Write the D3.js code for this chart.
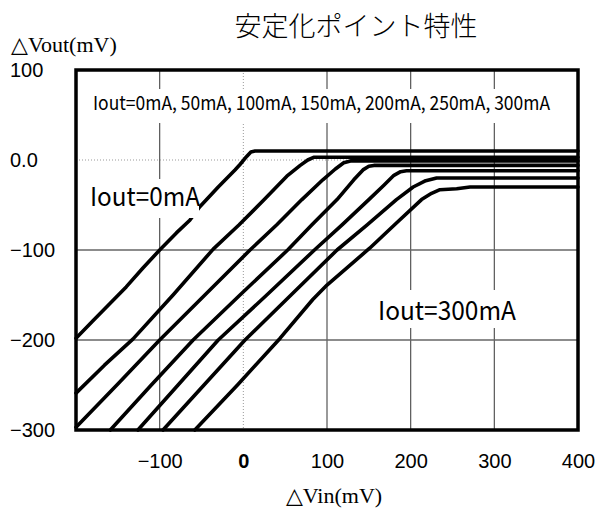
<!DOCTYPE html>
<html><head><meta charset="utf-8">
<script src="https://cdn.jsdelivr.net/npm/d3@7"></script>
<style>html,body{margin:0;padding:0;background:#fff;}svg{display:block;}</style>
</head><body>
<svg id="c" width="608" height="508"></svg>
<script>
// ---- data ----
const title = "安定化ポイント特性";
const yTitle = "△Vout(mV)";
const xTitle = "△Vin(mV)";
const legendText = "Iout=0mA, 50mA, 100mA, 150mA, 200mA, 250mA, 300mA";
const labelFirst = "Iout=0mA";
const labelLast = "Iout=300mA";
const xTicks = [-100, 0, 100, 200, 300, 400];
const yTicks = [100, 0, -100, -200, -300];
const xGridSolid = [-100, 100, 200, 300];
const yGridSolid = [-100, -200];
const ioutSeries = ["0mA", "50mA", "100mA", "150mA", "200mA", "250mA", "300mA"];
const curve0mA = [[-200,-198],[-180,-179],[-160,-160],[-140,-141],[-120,-120],[-100,-100],[-80,-81],[-64,-67],[-52,-52],[-30,-30],[-10,-11],[-4,-5],[4,4],[9,9],[14,10],[40,10],[400,10]];
const curve50mA = [[-200,-259],[-166,-228],[-132,-199],[-84,-150],[-36,-99],[-5,-72],[25,-44],[52,-18],[68,-6],[77,0],[84,3],[400,3]];
const curve100mA = [[-200,-297],[-150,-249],[-100,-200],[-46,-150],[8,-100],[40,-72],[70,-44],[95,-22],[110,-10],[120,-3],[128,-1],[400,-1]];
const curve150mA = [[-159,-300],[-110,-250],[-60,-200],[-4,-150],[53,-100],[82,-72],[112,-44],[132,-22],[143,-11],[150,-7],[156,-6],[400,-6]];
const curve200mA = [[-126,-300],[-78,-250],[-30,-200],[28,-150],[85,-100],[118,-72],[150,-44],[168,-28],[180,-17],[188,-13],[195,-12],[400,-12]];
const curve250mA = [[-96,-300],[-47,-250],[2,-200],[57,-150],[112,-100],[148,-72],[183,-44],[203,-30],[218,-23],[231,-20],[400,-20]];
const curve300mA = [[-58,-300],[-7,-250],[44,-198],[83,-155],[100,-139],[151,-98],[183,-70],[213,-44],[225,-37],[235,-33],[255,-32],[271,-30],[400,-30]];
const curves = [curve0mA, curve50mA, curve100mA, curve150mA, curve200mA, curve250mA, curve300mA];

// ---- drawing ----
const svg = d3.select("#c");
const x = d3.scaleLinear().domain([-200, 400]).range([76, 578]);
const y = d3.scaleLinear().domain([-300, 100]).range([430, 70]);
const sans = "'Noto Sans CJK JP', 'Liberation Sans', sans-serif";
const serif = "'Liberation Serif', 'DejaVu Serif', serif";

// gridlines
const g = svg.append("g");
g.selectAll(".vg").data(xGridSolid).join("line")
  .attr("x1", d => x(d)).attr("x2", d => x(d)).attr("y1", y(100)).attr("y2", y(-300))
  .attr("stroke", "#555").attr("stroke-width", 1.2);
g.selectAll(".hg").data(yGridSolid).join("line")
  .attr("x1", x(-200)).attr("x2", x(400)).attr("y1", d => y(d)).attr("y2", d => y(d))
  .attr("stroke", "#666").attr("stroke-width", 1.5);
g.append("line").attr("x1", x(0)).attr("x2", x(0)).attr("y1", y(100)).attr("y2", y(-300))
  .attr("stroke", "#999").attr("stroke-width", 1).attr("stroke-dasharray", "1,2");
g.append("line").attr("x1", x(-200)).attr("x2", x(400)).attr("y1", y(0)).attr("y2", y(0))
  .attr("stroke", "#999").attr("stroke-width", 1).attr("stroke-dasharray", "1,2");

// curves
const line = d3.line().x(d => x(d[0])).y(d => y(d[1]));
svg.append("g").selectAll("path").data(curves).join("path")
  .attr("d", line).attr("fill", "none").attr("stroke", "#000")
  .attr("stroke-width", 3.6).attr("stroke-linejoin", "round").attr("stroke-linecap", "round");

// white-backed labels
function boxLabel(txt, cx, by, size, len, box) {
  svg.append("rect").attr("x", box[0]).attr("y", box[1]).attr("width", box[2]).attr("height", box[3]).attr("fill", "#fff");
  svg.append("text").attr("x", cx).attr("y", by).attr("font-family", sans).attr("font-size", size)
    .attr("textLength", len).attr("lengthAdjust", "spacingAndGlyphs").text(txt);
}
boxLabel(legendText, 93, 110, 19, 457, [86, 89, 470, 34]);
boxLabel(labelFirst, 90, 206, 26, 110, [84, 179, 115, 39]);
boxLabel(labelLast, 378, 320, 26, 138, [372, 290, 150, 38]);

// frame
svg.append("rect").attr("x", x(-200)).attr("y", y(100)).attr("width", x(400) - x(-200)).attr("height", y(-300) - y(100))
  .attr("fill", "none").attr("stroke", "#000").attr("stroke-width", 3.5);

// x axis labels
const xAxis = d3.axisBottom(x).tickValues(xTicks).tickSize(0).tickPadding(24);
const xa = svg.append("g").attr("transform", `translate(0,${y(-300)})`).call(xAxis);
xa.select(".domain").remove();
xa.selectAll("text").attr("font-family", "'Liberation Sans', sans-serif").attr("font-size", 20).attr("fill", "#000")
  .attr("font-weight", d => d === 0 ? "bold" : "normal");

// y axis labels (left aligned)
const yAxis = d3.axisLeft(y).tickValues(yTicks).tickSize(0).tickFormat(d => d === 0 ? "0.0" : d3.format("d")(d));
const ya = svg.append("g").attr("transform", "translate(0,0)").call(yAxis);
ya.select(".domain").remove();
ya.selectAll("text").attr("font-family", "'Liberation Sans', sans-serif").attr("font-size", 20).attr("fill", "#000")
  .attr("text-anchor", "start").attr("x", 10);

// titles
svg.append("text").attr("x", 356).attr("y", 36).attr("text-anchor", "middle").attr("font-family", sans)
  .attr("font-size", 27).attr("font-weight", 300).text(title);
svg.append("text").attr("x", 11).attr("y", 52).attr("font-family", serif).attr("font-size", 22).text(yTitle);
svg.append("text").attr("x", 334).attr("y", 503).attr("text-anchor", "middle").attr("font-family", serif)
  .attr("font-size", 22).text(xTitle);
</script>
</body></html>
